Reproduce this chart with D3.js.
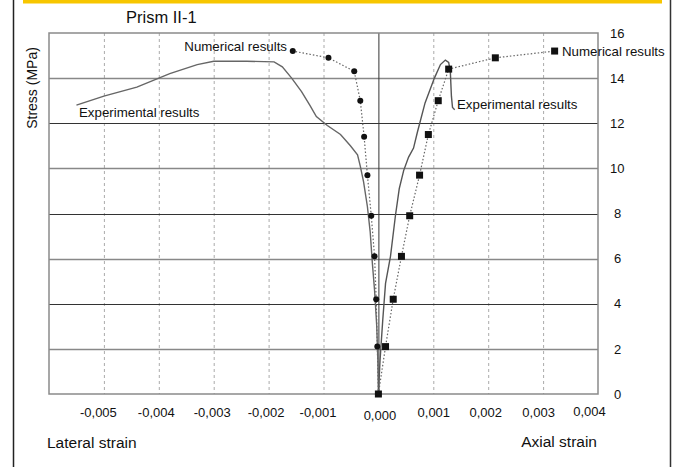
<!DOCTYPE html>
<html>
<head>
<meta charset="utf-8">
<script src="https://cdn.jsdelivr.net/npm/d3@7"></script>
<style>
  html, body { margin: 0; padding: 0; background: #fff; }
  svg { display: block; font-family: "Liberation Sans", Arial, sans-serif; }
</style>
</head>
<body>
<svg id="chart" width="675" height="467"></svg>
<script>
// Stress ticks (MPa) and strain ticks
const stressTicks = [0, 2, 4, 6, 8, 10, 12, 14, 16];
const strainTicks = [-0.005, -0.004, -0.003, -0.002, -0.001, 0, 0.001, 0.002, 0.003, 0.004];
const strainLabels = ["-0,005", "-0,004", "-0,003", "-0,002", "-0,001", "0,000", "0,001", "0,002", "0,003", "0,004"];

// Numerical results (markers joined by dotted line)
const numStress = [0, 2.1, 4.2, 6.1, 7.9, 9.7, 11.4, 13.0, 14.3, 14.9, 15.2];
const numLateral = [0, -0.00002, -0.00004, -0.00007, -0.00013, -0.0002, -0.00026, -0.00033, -0.00044, -0.00091, -0.00156];
const numStressAx = [0, 2.1, 4.2, 6.1, 7.9, 9.7, 11.5, 13.0, 14.4, 14.9, 15.2];
const numAxial = [0, 0.00013, 0.00027, 0.00042, 0.00057, 0.00075, 0.00091, 0.00109, 0.00128, 0.00213, 0.00321];

// Experimental results, lateral branch (strain, stress)
const expLatStrain = [0, -0.00001, -0.00003, -0.00007, -0.00011, -0.00015, -0.0002, -0.00027, -0.00033, -0.00038, -0.00051, -0.00069, -0.00093, -0.00113, -0.00125, -0.00140, -0.00158, -0.00175, -0.0019, -0.0024, -0.0030, -0.0033, -0.0038, -0.0044, -0.0050, -0.0055];
const expLatStress = [0, 1.5, 3.0, 4.6, 5.8, 7.2, 8.3, 9.4, 10.1, 10.6, 11.0, 11.5, 11.9, 12.3, 12.8, 13.4, 14.0, 14.5, 14.72, 14.75, 14.75, 14.6, 14.2, 13.6, 13.2, 12.8];

// Experimental results, axial branch (strain, stress)
const expAxStrain = [0, 0.00003, 0.00008, 0.00013, 0.00022, 0.00031, 0.00038, 0.00046, 0.00055, 0.00064, 0.00071, 0.00085, 0.00102, 0.00113, 0.00122, 0.00128, 0.00131, 0.00133, 0.00135, 0.00139];
const expAxStress = [0, 1.5, 3.3, 4.9, 6.1, 7.9, 9.1, 9.9, 10.5, 10.9, 11.6, 12.9, 14.0, 14.6, 14.8, 14.7, 14.3, 13.2, 12.7, 12.6];

const svg = d3.select("#chart");
const L = 49, R = 598, T = 33, B = 394;

const x = d3.scaleLinear().domain([-0.006, 0.004]).range([L, R]);
const y = d3.scaleLinear().domain([0, 16]).range([B, T]);

// page frame
svg.append("line").attr("x1", 13.5).attr("x2", 13.5).attr("y1", 0).attr("y2", 467)
  .attr("stroke", "#222").attr("stroke-width", 1.5);
svg.append("line").attr("x1", 670.5).attr("x2", 670.5).attr("y1", 0).attr("y2", 467)
  .attr("stroke", "#333").attr("stroke-width", 1.5);
svg.append("rect").attr("x", 23).attr("y", 0).attr("width", 639).attr("height", 3.5)
  .attr("fill", "#f7c600");

// vertical dashed grid
svg.append("g").selectAll("line")
  .data(strainTicks.filter(d => d !== 0 && d !== 0.004))
  .join("line")
  .attr("x1", d => x(d) + 0.5).attr("x2", d => x(d) + 0.5)
  .attr("y1", T).attr("y2", B)
  .attr("stroke", "#aaa").attr("stroke-width", 1).attr("stroke-dasharray", "3,3");

// horizontal solid grid
svg.append("g").selectAll("line")
  .data(stressTicks.filter(d => d > 0 && d < 16))
  .join("line")
  .attr("x1", L).attr("x2", R)
  .attr("y1", d => Math.round(y(d)) + 0.5).attr("y2", d => Math.round(y(d)) + 0.5)
  .attr("stroke", (d, i) => i % 2 === 0 ? "#888" : "#333")
  .attr("stroke-width", (d, i) => i % 2 === 0 ? 1.5 : 1);

// zero strain line
svg.append("line").attr("x1", x(0) + 0.5).attr("x2", x(0) + 0.5).attr("y1", T).attr("y2", B)
  .attr("stroke", "#333").attr("stroke-width", 1);

// plot border
svg.append("rect").attr("x", L).attr("y", T).attr("width", R - L).attr("height", B - T)
  .attr("fill", "none").attr("stroke", "#8a8a8a").attr("stroke-width", 1.5);

// x axis tick labels (slightly shifted, as typeset)
const labelShift = [-6, -3, -2, -3, -6, 1, 0, -3, -5, -9];
const labelDrop = [0, 0, 0, 0, 0, 3, 0, 0, 0, -1];
const xAxis = d3.axisBottom(x).tickValues(strainTicks)
  .tickFormat((d, i) => strainLabels[i]).tickSize(0).tickPadding(0);
const gx = svg.append("g").attr("transform", `translate(0,${B + 14})`).call(xAxis);
gx.select(".domain").remove();
gx.selectAll("text").attr("font-size", 13).attr("fill", "#111")
  .attr("font-family", "Liberation Sans, Arial, sans-serif")
  .attr("dx", (d, i) => labelShift[i])
  .attr("y", (d, i) => labelDrop[i])
  .attr("dy", "0.71em");

// y axis tick labels on the right
const yAxis = d3.axisRight(y).tickValues(stressTicks).tickSize(0).tickPadding(0);
const gy = svg.append("g").attr("transform", `translate(${R + 12},0)`).call(yAxis);
gy.select(".domain").remove();
gy.selectAll("text").attr("font-size", 13).attr("fill", "#111")
  .attr("font-family", "Liberation Sans, Arial, sans-serif")
  .attr("text-anchor", "start").attr("dx", d => d < 10 ? 4 : 0);

// experimental curves
const line = d3.line().x(d => x(d[0])).y(d => y(d[1]));
const expLat = expLatStrain.map((s, i) => [s, expLatStress[i]]);
const expAx = expAxStrain.map((s, i) => [s, expAxStress[i]]);
svg.append("path").datum(expLat).attr("d", line)
  .attr("fill", "none").attr("stroke", "#666").attr("stroke-width", 1.4);
svg.append("path").datum(expAx).attr("d", line)
  .attr("fill", "none").attr("stroke", "#555").attr("stroke-width", 1.4);

// numerical curves
const numLat = numLateral.map((s, i) => [s, numStress[i]]);
const numAx = numAxial.map((s, i) => [s, numStressAx[i]]);
svg.append("path").datum(numLat).attr("d", line)
  .attr("fill", "none").attr("stroke", "#666").attr("stroke-width", 1.2).attr("stroke-dasharray", "1.5,2");
svg.append("path").datum(numAx).attr("d", line)
  .attr("fill", "none").attr("stroke", "#666").attr("stroke-width", 1.2).attr("stroke-dasharray", "1.5,2");

svg.append("g").selectAll("circle").data(numLat).join("circle")
  .attr("cx", d => x(d[0])).attr("cy", d => y(d[1])).attr("r", 3).attr("fill", "#111");
svg.append("g").selectAll("rect").data(numAx).join("rect")
  .attr("x", d => x(d[0]) - 3.5).attr("y", d => y(d[1]) - 3.5)
  .attr("width", 7).attr("height", 7).attr("fill", "#111");

// annotations
const txt = (tx, ty, s, size, anchor) => svg.append("text").attr("x", tx).attr("y", ty)
  .attr("font-size", size).attr("fill", "#111").attr("text-anchor", anchor || "start").text(s);
txt(287, 51, "Numerical results", 13.3, "end");
txt(562, 56, "Numerical results", 13.3);
txt(79, 117, "Experimental results", 13.3);
txt(457, 109, "Experimental results", 13.3);

// titles
txt(126, 23, "Prism II-1", 16.5);
txt(47, 448, "Lateral strain", 15.5);
txt(597, 447, "Axial strain", 15.5, "end");
svg.append("text").attr("transform", "translate(37,88) rotate(-90)")
  .attr("text-anchor", "middle").attr("font-size", 14).attr("fill", "#111").text("Stress (MPa)");
</script>
</body>
</html>
